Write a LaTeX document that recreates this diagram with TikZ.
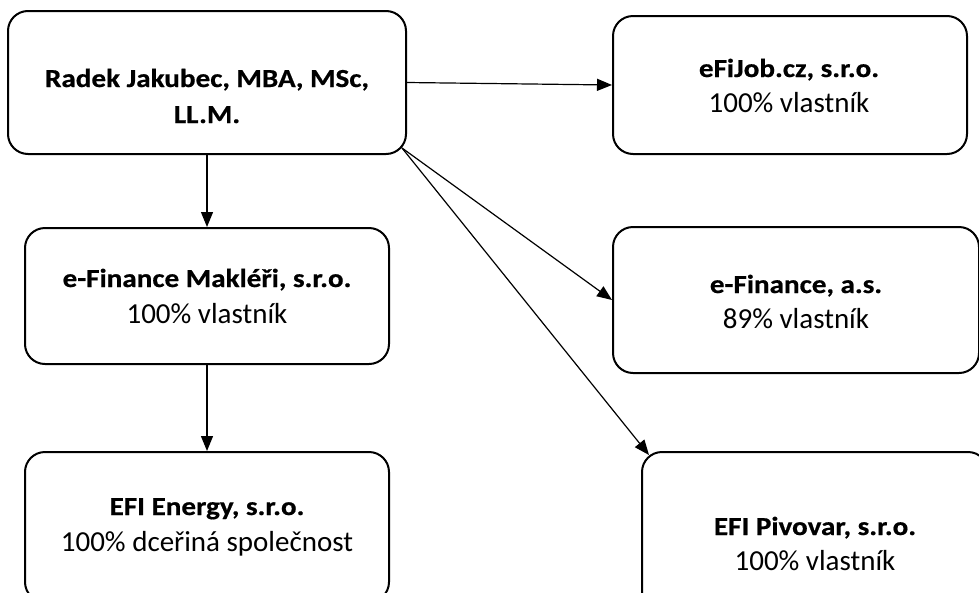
\documentclass[tikz,border=0pt]{standalone}
\usepackage{fontspec}
\setmainfont{Carlito}[BoldFeatures={FakeStretch=1.12,FakeBold=0.6}]
\usetikzlibrary{arrows.meta,calc}
\begin{document}
\begin{tikzpicture}[x=1pt,y=-1pt,
  box/.style={draw,line width=2pt,rounded corners=20pt,inner sep=0pt},
  bline/.style={anchor=base,inner sep=0pt,font=\bfseries\fontsize{26}{35}\selectfont},
  rline/.style={anchor=base,inner sep=0pt,font=\fontsize{29}{35}\selectfont},
  conn/.style={line width=1.2pt,-{Triangle[length=15pt,width=12pt]}}]
\useasboundingbox (0,0) rectangle (979,592);
\clip (0,0) rectangle (979,592);
% boxes
\node[box,minimum width=398pt,minimum height=143pt] (A) at (207,82.5) {};
\node[box,minimum width=354pt,minimum height=138pt] (job) at (790,85) {};
\node[box,minimum width=366pt,minimum height=146pt] (efin) at (796,300) {};
\node[box,minimum width=364pt,minimum height=136pt] (mak) at (207,296) {};
\node[box,minimum width=364pt,minimum height=150pt] (ene) at (207,527) {};
\node[box,minimum width=346pt,minimum height=170pt] (piv) at (815,537) {};
% texts
\node[bline] (A1) at (207,87) {Radek Jakubec, MBA, MSc,};
\node[bline] (A2) at (207,123) {LL.M.};
\node[bline] (job1) at (789,77) {eFiJob.cz, s.r.o.};
\node[rline] (job2) at (789,112) {100\% vlastník};
\node[bline] (efin1) at (796,293) {e-Finance, a.s.};
\node[rline] (efin2) at (796,328) {89\% vlastník};
\node[bline] (mak1) at (207,287) {e-Finance Makléři, s.r.o.};
\node[rline] (mak2) at (207,323) {100\% vlastník};
\node[bline] (ene1) at (207,515) {EFI Energy, s.r.o.};
\node[rline] (ene2) at (207,551) {100\% dceřiná společnost};
\node[bline] (piv1) at (815,535) {EFI Pivovar, s.r.o.};
\node[rline] (piv2) at (815,570) {100\% vlastník};
% connectors
\coordinate (start) at ($(A.south east)+(-5,-7)$);
\coordinate (pivtip) at ($(piv.north west)+(8,4)$);
\draw[conn] (A.east) -- (job.west);
\draw[conn] (A.south) -- (mak.north);
\draw[conn] (mak.south) -- (ene.north);
\draw[conn] (start) -- (efin.west);
\draw[conn] (start) -- (pivtip);
\end{tikzpicture}
\end{document}
